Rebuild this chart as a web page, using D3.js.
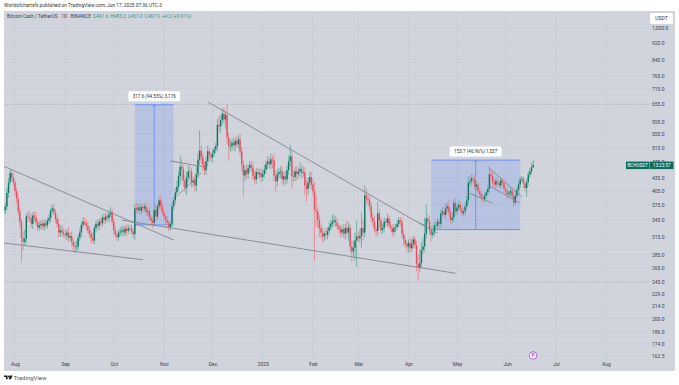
<!DOCTYPE html>
<html>
<head>
<meta charset="utf-8">
<script src="https://cdn.jsdelivr.net/npm/d3@7"></script>
<style>
  html, body { margin: 0; padding: 0; background: #fff; }
  svg { display: block; font-family: Roboto, "Liberation Sans", sans-serif; }
</style>
</head>
<body>
<div id="chart"></div>
<script>
// Daily closes, Jul 25 2024 to Jun 17 2025, one line per month
const firstDay = Date.UTC(2024, 6, 25);
const firstOpen = 360;
const closes = [
    365,372,401,425,448,436,425,
    405,388,362,341,312, 306,311,352,350,349, 338,354,350,340,331, 335,338,333,339,335, 344,349,364,368,360, 347,338,322,326,322, 319,
    317,322,313,316,306, 299,297,298,313,322, 336,342,340,334,326, 320,312,308,330,338, 334,342,339,350,345, 352,349,356,361,342,
    326,318,314,322,324, 327,322,329,325,330, 329,324,319,368,365, 370,363,371,368,372, 361,363,350,344,340, 365,352,372,385,372, 360,
    352,345,340,332,338, 372,385,402,415,440, 464,458,430,412,436, 452,450,425,430,418, 445,482,507,490,468, 455,478,505,495,488,
    500,510,520,585,580, 600,622,602,618,545, 520,520,530,522,535, 525,540,505,470,442, 455,446,460,468,462, 440,432,450,445,448, 438,
    445,456,470,478,470, 483,480,440,428,445, 450,452,432,440,432, 455,478,491,440,438, 452,445,452,458,448, 450,418,410,425,438, 420,
    405,365,362,345,330, 322,315,320,318,325, 332,338,342,345,340, 333,328,322,328,320, 330,322,331,298,290, 296,308,315,
    312,316,330,322,396, 388,385,372,350,342, 328,325,358,345,326, 330,342,340,348,335, 330,323,330,332,338, 345,342,320,310,302, 298,
    304,295,303,310,300, 270,265,272,292,298, 320,348,343,326,318, 322,335,335,342,338, 358,362,355,368,372, 360,345,350,380,362,
    370,376,365,358,362, 372,385,425,428,435, 432,415,420,405,398, 392,388,395,402,410, 444,440,425,420,428, 424,418,430,424,410, 405,
    398,400,406,394,380, 395,408,420,432,434, 422,412,426,444,452, 461.6,467.9
];
// Wick length above the body, USDT
const wicksUp = [
    6,8,12,10,8,8,10,
    6,8,10,8,6, 12,16,6,10,12, 8,6,8,10,6, 8,6,8,6,8, 6,8,6,8,10, 6,8,10,8,10, 8,
    8,6,10,6,8, 6,8,10,6,8, 6,8,8,6,6, 8,6,10,6,6, 8,6,8,6,8, 6,8,8,10,6,
    6,8,6,6,8, 6,8,6,8,6, 6,8,6,10,12, 8,10,6,8,6, 10,6,8,6,6, 8,12,6,8,10, 8,
    8,6,8,6,6, 10,8,10,14,12, 30,20,10,12,14, 14,16,10,8,14, 22,18,60,16,12, 10,14,16,10,8,
    10,8,10,20,30, 14,18,22,12,40, 14,18,12,16,10, 14,12,16,14,10, 12,14,10,12,10, 14,14,10,12,10, 12,
    10,12,10,14,12, 16,10,20,12,12, 10,12,14,10,12, 12,16,32,16,14, 12,14,10,16,12, 14,12,14,12,12, 14,
    14,20,30,10,10, 8,10,6,10,6, 8,8,14,10,8, 10,6,8,6,10, 8,14,10,6,10, 12,14,30,
    8,12,30,16,22, 14,10,8,8,8, 10,6,24,8,6, 8,8,6,10,6, 8,6,8,6,8, 6,6,8,8,6, 6,
    6,8,8,6,6, 8,14,22,14,14, 30,28,8,10,8, 8,6,8,8,6, 8,8,10,10,8, 14,6,10,8,10,
    6,8,6,8,6, 8,10,14,12,10, 10,8,8,8,8, 8,6,6,6,8, 14,10,10,8,8, 8,6,8,6,6, 8,
    8,6,8,6,8, 8,6,8,8,6, 6,8,8,8,10, 12,15.3
];
// Wick length below the body, USDT
const wicksDown = [
    6,8,8,10,6,8,8,
    10,8,8,10,38, 14,6,8,10,6, 8,10,6,6,6, 6,8,6,8,6, 6,6,8,6,6, 8,6,8,8,6, 6,
    6,8,8,6,8, 8,10,8,6,6, 8,6,6,8,6, 6,8,6,6,8, 6,8,6,6,8, 6,6,8,6,8,
    8,6,8,6,6, 8,6,6,8,6, 6,6,8,10,8, 6,8,6,8,6, 8,8,6,8,10, 6,8,6,6,8, 6,
    10,8,8,8,6, 6,8,8,10,10, 20,30,16,10,16, 10,20,12,10,14, 14,10,14,18,16, 12,12,14,18,10,
    14,10,12,14,20, 20,14,14,30,20, 40,16,14,12,18, 10,12,12,20,50, 14,12,12,10,12, 10,12,10,12,10, 12,
    10,8,10,12,10, 12,20,14,24,12, 10,14,10,14,12, 10,12,14,30,12, 10,14,10,12,14, 10,22,28,14,10, 12,
    12,90,30,14,16, 10,10,8,8,8, 8,6,8,8,8, 6,8,8,6,8, 10,6,14,10,16, 10,20,42,
    6,8,20,14,8, 8,10,8,8,8, 6,10,8,14,6, 6,8,6,8,6, 6,8,6,8,6, 6,8,8,10,6, 8,
    10,8,6,8,6, 10,18,6,8,6, 8,8,6,8,12, 6,6,8,6,6, 8,6,6,8,6, 8,8,6,8,8,
    8,6,6,6,6, 8,6,8,10,8, 8,8,8,6,8, 8,10,8,8,6, 8,8,8,8,8, 8,6,8,6,8, 10,
    10,8,6,8,10, 6,6,8,8,6, 10,8,20,8,8, 8,0.6
];

const priceTicks = [1000, 920, 840, 765, 715, 655, 595, 555, 515, 475, 435, 405, 375, 345, 315, 285, 265, 245, 229, 214, 200, 186, 174, 162.5];
const monthTicks = ["2024-08-01","2024-09-01","2024-10-01","2024-11-01","2024-12-01","2025-01-01","2025-02-01","2025-03-01","2025-04-01","2025-05-01","2025-06-01","2025-07-01","2025-08-01"];
const monthLabels = ["Aug","Sep","Oct","Nov","Dec","2025","Feb","Mar","Apr","May","Jun","Jul","Aug"];
const dashedPrices = [655, 245];

// Trend lines as [date, price, date, price]
const trendLines = [
    ["2024-07-25", 465, "2024-11-07", 309],
    ["2024-07-25", 304, "2024-10-19", 277],
    ["2024-10-14", 341, "2025-04-30", 257],
    ["2024-11-28", 664, "2025-04-13", 330],
    ["2024-11-05", 479, "2024-11-26", 463],
    ["2024-11-10", 397, "2024-11-24", 448],
    ["2024-10-06", 345, "2024-10-14", 341],
    ["2025-05-07", 403, "2025-05-23", 379],
    ["2025-05-20", 463, "2025-06-10", 392],
    ["2025-05-20", 419, "2025-06-09", 379],
    ["2025-04-08", 340, "2025-04-19", 321]
];
// Measure boxes: start, end, low, high, label
const measureStarts = ["2024-10-14", "2025-04-15"];
const measureEnds = ["2024-11-07", "2025-06-09"];
const measureLows = [336, 327.3];
const measureHighs = [653.6, 481];
const measureLabels = ["317.6 (94.55%) 3,176", "153.7 (46.96%) 1,537"];

const headerText = "Worldofchartsfx published on TradingView.com, Jun 17, 2025 07:36 UTC-3";
const legendTitle = "Bitcoin Cash / TetherUS · 1D · BINANCE";
const legendValues = ["O461.6", "H483.2", "L461.0", "C467.9", "+4.2 (+0.91%)"];

const width = 679, height = 385;
const pane = { left: 4, top: 11, right: 675, bottom: 371, axisX: 650, axisY: 360 };
const upColor = "#0f7565", downColor = "#e2505e";
const upWick = "#6fb5a9", downWick = "#e88f98";

const x = d3.scaleUtc()
    .domain([new Date("2024-08-01"), new Date("2025-08-01")])
    .range([15, 606]);
const y = d3.scaleLog()
    .domain([1000, 162.5])
    .range([28, 356]);

const candles = closes.map((close, i) => {
    const open = i === 0 ? firstOpen : closes[i - 1];
    return {
        date: new Date(firstDay + i * 864e5),
        open, close,
        high: Math.max(open, close) + wicksUp[i],
        low: Math.min(open, close) - wicksDown[i]
    };
});

const svg = d3.select("#chart").append("svg")
    .attr("width", width)
    .attr("height", height);

svg.append("defs").append("clipPath").attr("id", "plot")
    .append("rect")
    .attr("x", pane.left).attr("y", pane.top)
    .attr("width", pane.axisX - pane.left).attr("height", pane.axisY - pane.top);

svg.append("rect")
    .attr("x", pane.left).attr("y", pane.top)
    .attr("width", pane.right - pane.left).attr("height", pane.bottom - pane.top)
    .attr("fill", "#d1d4dc");

// Grid
const grid = svg.append("g").attr("stroke", "#c8cbd4").attr("stroke-width", 0.6);
grid.selectAll(".h").data(priceTicks).enter().append("line")
    .attr("x1", pane.left).attr("x2", pane.axisX)
    .attr("y1", d => y(d)).attr("y2", d => y(d));
grid.selectAll(".v").data(monthTicks).enter().append("line")
    .attr("x1", d => x(new Date(d))).attr("x2", d => x(new Date(d)))
    .attr("y1", pane.top).attr("y2", pane.axisY);

svg.append("g").selectAll("line").data(dashedPrices).enter().append("line")
    .attr("x1", pane.left).attr("x2", pane.axisX)
    .attr("y1", d => y(d)).attr("y2", d => y(d))
    .attr("stroke", "#afb2bb").attr("stroke-width", 0.6).attr("stroke-dasharray", "1.5 1.5");

const plot = svg.append("g").attr("clip-path", "url(#plot)");

// Measure boxes go under the candles
const measures = plot.append("g").selectAll("g").data(measureLabels).enter().append("g");
measures.append("rect")
    .attr("x", (d, i) => x(new Date(measureStarts[i])))
    .attr("y", (d, i) => y(measureHighs[i]))
    .attr("width", (d, i) => x(new Date(measureEnds[i])) - x(new Date(measureStarts[i])))
    .attr("height", (d, i) => y(measureLows[i]) - y(measureHighs[i]))
    .attr("fill", "#2962ff").attr("fill-opacity", 0.15);
[measureHighs, measureLows].forEach(edge => {
    measures.append("line")
        .attr("x1", (d, i) => x(new Date(measureStarts[i])))
        .attr("x2", (d, i) => x(new Date(measureEnds[i])))
        .attr("y1", (d, i) => y(edge[i])).attr("y2", (d, i) => y(edge[i]))
        .attr("stroke", "#6b92f2").attr("stroke-width", 1);
});
const midX = i => (x(new Date(measureStarts[i])) + x(new Date(measureEnds[i]))) / 2;
measures.append("line")
    .attr("x1", (d, i) => midX(i)).attr("x2", (d, i) => midX(i))
    .attr("y1", (d, i) => y(measureHighs[i])).attr("y2", (d, i) => y(measureLows[i]))
    .attr("stroke", "#6b92f2").attr("stroke-width", 0.9);
measures.append("path")
    .attr("d", (d, i) => `M${midX(i) - 2},${y(measureHighs[i]) + 2}L${midX(i)},${y(measureHighs[i])}L${midX(i) + 2},${y(measureHighs[i]) + 2}`)
    .attr("fill", "none").attr("stroke", "#6b92f2").attr("stroke-width", 0.8);

// Candles
const candle = plot.append("g").selectAll("g").data(candles).enter().append("g");
candle.append("line")
    .attr("x1", d => x(d.date)).attr("x2", d => x(d.date))
    .attr("y1", d => y(d.high)).attr("y2", d => y(d.low))
    .attr("stroke", d => d.close >= d.open ? upWick : downWick)
    .attr("stroke-width", 1);
candle.append("rect")
    .attr("x", d => x(d.date) - 0.7).attr("width", 1.4)
    .attr("y", d => y(Math.max(d.open, d.close)))
    .attr("height", d => Math.max(0.6, Math.abs(y(d.open) - y(d.close))))
    .attr("fill", d => d.close >= d.open ? upColor : downColor);

// Trend lines
plot.append("g").selectAll("line").data(trendLines).enter().append("line")
    .attr("x1", d => x(new Date(d[0]))).attr("y1", d => y(d[1]))
    .attr("x2", d => x(new Date(d[2]))).attr("y2", d => y(d[3]))
    .attr("stroke", "#83868e").attr("stroke-width", 0.9);

// Measure labels
const tips = svg.append("g").selectAll("g").data(measureLabels).enter().append("g")
    .attr("transform", (d, i) => `translate(${midX(i)},${y(measureHighs[i]) - 8.5})`);
tips.append("rect")
    .attr("x", -26).attr("y", -5).attr("width", 52).attr("height", 10).attr("rx", 1.5)
    .attr("fill", "#fff");
tips.append("text")
    .attr("text-anchor", "middle").attr("dy", "0.35em")
    .attr("font-size", 4.6).attr("fill", "#2a2e39")
    .text(d => d);

// Axes
const yAxis = svg.append("g")
    .attr("transform", `translate(${pane.axisX},0)`)
    .call(d3.axisRight(y).tickValues(priceTicks).tickSize(0).tickPadding(2)
        .tickFormat(d => d3.format(",.1f")(d)));
const xAxis = svg.append("g")
    .attr("transform", `translate(0,${pane.axisY})`)
    .call(d3.axisBottom(x).tickValues(monthTicks.map(d => new Date(d))).tickSize(0).tickPadding(2.5)
        .tickFormat((d, i) => monthLabels[i]));
[yAxis, xAxis].forEach(a => {
    a.select(".domain").remove();
    a.selectAll("text").attr("font-size", 5).attr("font-family", "Roboto, sans-serif").attr("fill", "#3e4250");
});

// USDT box
svg.append("rect").attr("x", 650).attr("y", 13).attr("width", 23).attr("height", 11).attr("rx", 1.5).attr("fill", "#fff");
svg.append("text").attr("x", 661.5).attr("y", 20.3).attr("text-anchor", "middle")
    .attr("font-size", 5).attr("fill", "#2a2e39").text("USDT");

// Last price tag
const lastPrice = closes[closes.length - 1];
svg.append("rect").attr("x", 626).attr("y", y(lastPrice) - 3.5).attr("width", 23.5).attr("height", 7.5).attr("fill", "#0c6b5c");
svg.append("rect").attr("x", 650).attr("y", y(lastPrice) - 3.5).attr("width", 23.5).attr("height", 7.5).attr("fill", "#0c6b5c");
svg.append("text").attr("x", 637.7).attr("y", y(lastPrice) + 2).attr("text-anchor", "middle")
    .attr("font-size", 4.6).attr("fill", "#fff").text("BCHUSDT");
svg.append("text").attr("x", 661.7).attr("y", y(lastPrice) + 2).attr("text-anchor", "middle")
    .attr("font-size", 4.6).attr("fill", "#fff").text("13:23:57");

// Small P marker under the last candle
const marker = svg.append("g").attr("transform", `translate(${x(new Date("2025-06-17"))},${y(163)})`);
marker.append("circle").attr("r", 3.8).attr("fill", "#fff").attr("stroke", "#b35fd6").attr("stroke-width", 1);
marker.append("text").attr("text-anchor", "middle").attr("dy", "0.35em")
    .attr("font-size", 4.5).attr("font-weight", 700).attr("fill", "#9b3fc4").text("P");

// Header and legend
svg.append("text").attr("x", 4).attr("y", 7.2).attr("font-size", 4.5).attr("fill", "#333")
    .attr("textLength", 158).attr("lengthAdjust", "spacingAndGlyphs").text(headerText);
const legend = svg.append("text").attr("x", 7).attr("y", 18.2).attr("font-size", 4.8);
legend.append("tspan").attr("fill", "#3b3f4c").text(legendTitle + " ");
legendValues.forEach((v, i) => {
    legend.append("tspan")
        .attr("dx", i ? 2 : 1)
        .attr("fill", "#2a9d8a")
        .text(v);
});

// TradingView footer
const logo = svg.append("g").attr("transform", "translate(4,375.5)").attr("fill", "#131722");
logo.append("path").attr("d", "M0,0H3.6V3.8H2V1.6H0Z");
logo.append("circle").attr("cx", 4.8).attr("cy", 0.9).attr("r", 0.9);
logo.append("path").attr("d", "M6,0H8.6L7,3.8H4.6Z");
svg.append("text").attr("x", 13.5).attr("y", 380).attr("font-size", 6).attr("fill", "#50535e").text("TradingView");
</script>
</body>
</html>
